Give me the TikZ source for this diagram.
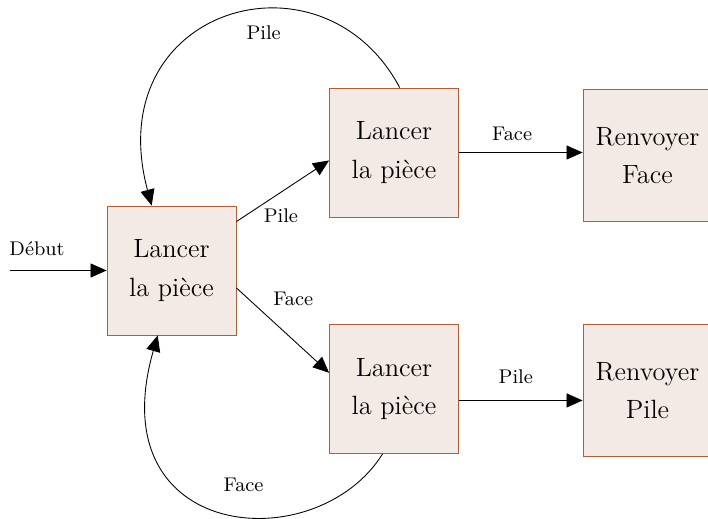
\documentclass[tikz,border=0pt]{standalone}
\usetikzlibrary{arrows.meta,positioning}
\definecolor{boxfill}{RGB}{243,234,230}
\definecolor{boxline}{RGB}{181,92,52}
\tikzset{
  lancerbox/.style={draw=boxline,fill=boxfill,minimum width=58.6pt,minimum height=58.6pt,
    align=center,font=\fontsize{12}{17.4}\selectfont},
  renvbox/.style={lancerbox,minimum height=60pt},
  arr/.style={-{Triangle[length=7.3pt,width=6.4pt]}},
  lbl/.style={font=\small},
}
\begin{document}
\begin{tikzpicture}[x=0.4545pt,y=0.4545pt]
\useasboundingbox (0,0) rectangle (708,-518);
% boxes
\node[lancerbox] (lancerA) at (171.5,-270.5) {Lancer\\la pièce};
\node[lancerbox] (lancerB) at (394,-152.5) {Lancer\\la pièce};
\node[lancerbox] (lancerC) at (394,-389) {Lancer\\la pièce};
\node[renvbox] (renvFace) at (647.5,-155.5) {Renvoyer\\Face};
\node[renvbox] (renvPile) at (647.5,-390.3) {Renvoyer\\Pile};
\coordinate (debut) at (10,-270.5);
% straight edges
\draw[arr] (debut) -- node[lbl,pos=0.28,above=3pt] {Début} (lancerA.west);
\draw[arr] (lancerA.37) -- node[lbl,pos=0.48,below=4pt] {Pile} (lancerB.187);
\draw[arr] (lancerA.345) -- node[lbl,pos=0.614,above=12pt] {Face} (lancerC.166);
\draw[arr] (lancerB.east) -- node[lbl,pos=0.43,above=2pt] {Face} (lancerB.east -| renvFace.west);
\draw[arr] (lancerC.350) -- node[lbl,pos=0.46,above=4pt] {Pile} (lancerC.350 -| renvPile.west);
% loops back to the start
\draw[arr] (lancerB.85) to[out=118,in=105,out distance=75pt,in distance=93.2pt]
  node[lbl,pos=0.4,below=4pt] {Pile} (lancerA.107);
\draw[arr] (lancerC.260) to[out=238,in=254,out distance=56.8pt,in distance=97.7pt]
  node[lbl,pos=0.44,above=7.8pt] {Face} (lancerA.258);
\end{tikzpicture}
\end{document}
